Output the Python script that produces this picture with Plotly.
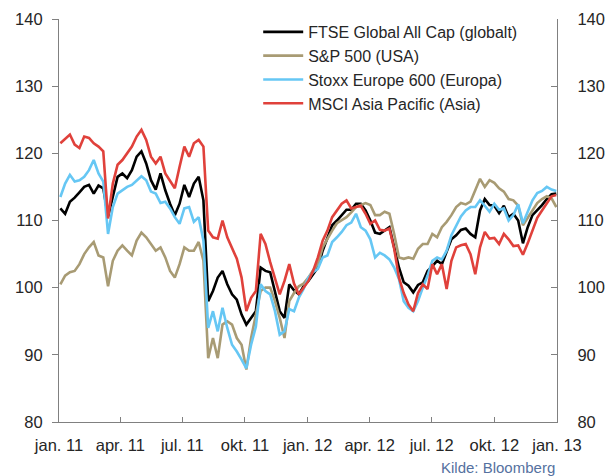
import pandas as pd
import plotly.graph_objects as go

dates = pd.date_range("2011-01-03", periods=105, freq="7D")

ftse_global = [
    111.8, 111.0, 112.8, 113.4, 114.2, 115.0, 115.3, 114.0, 115.2, 114.8,
    110.6, 113.5, 116.5, 117.0, 116.3, 117.5, 119.5, 120.3, 118.5, 116.0,
    114.6, 117.0, 114.5, 112.5, 110.8, 112.5, 115.3, 113.5, 115.5, 116.5,
    113.0, 98.0, 99.5, 101.5, 102.5, 100.5, 99.0, 98.2, 96.0, 94.5,
    95.5, 96.5, 103.0, 102.5, 102.3, 99.5, 96.5, 95.5, 100.5, 99.6,
    99.0, 100.2, 101.0, 102.0, 103.0, 105.5, 107.5, 109.3, 110.0, 110.8,
    111.6, 111.6, 112.5, 112.5, 111.5, 110.0, 108.2, 108.0, 108.5, 109.0,
    106.0, 103.0, 100.8, 100.3, 99.3, 100.4, 100.8, 102.5, 103.2, 104.0,
    103.5, 105.5, 107.2, 107.8, 108.6, 108.8, 108.0, 107.5, 111.5, 113.2,
    112.3, 112.2, 111.1, 112.2, 110.5, 111.0, 110.0, 106.6, 109.0, 110.8,
    111.5, 112.3, 113.2, 113.9, 114.0,
]

sp500 = [
    100.5, 101.8, 102.3, 102.5, 103.5, 105.0, 106.0, 106.8, 104.8, 104.5,
    100.2, 104.0, 105.5, 106.3, 105.5, 104.8, 107.0, 108.2, 107.5, 106.5,
    105.5, 106.0, 104.5, 102.5, 101.5, 103.5, 106.0, 105.5, 105.5, 106.8,
    104.0, 89.5, 92.5, 89.5, 94.5, 95.0, 94.5, 92.5, 91.5, 87.8,
    92.5, 96.0, 99.5, 100.0, 100.0, 98.0, 95.5, 92.5, 98.0, 99.2,
    100.2, 100.6, 101.5, 102.6, 103.5, 106.0, 107.3, 108.5, 109.6, 110.0,
    110.5, 111.2, 112.0, 112.3, 112.6, 112.3, 110.8, 110.8, 111.3, 111.0,
    108.0, 104.5, 104.3, 104.5, 104.3, 105.8, 106.5, 106.5, 108.0, 107.5,
    109.0, 109.8, 110.8, 112.0, 112.6, 112.4, 112.8, 114.5, 116.2, 115.0,
    116.0, 115.6, 114.8, 114.3, 113.2, 113.0, 112.2, 109.3, 110.5, 111.5,
    112.6, 113.2, 113.6, 113.3, 112.0,
]

stoxx600 = [
    113.5, 115.5, 116.8, 115.8, 116.0, 116.5, 117.5, 119.0, 117.0, 115.8,
    108.0, 112.0, 114.0, 114.5, 115.0, 115.3, 116.0, 116.6, 116.0, 114.3,
    114.0, 112.6, 112.8, 111.8, 110.5, 109.5, 111.8, 112.0, 109.8, 110.5,
    107.0, 94.0, 96.5, 93.5, 97.0, 94.0, 91.5, 90.5, 89.3, 88.0,
    91.5, 94.2, 100.5, 99.5, 99.0, 96.5, 93.0, 93.5, 96.8, 96.5,
    98.5, 99.8, 101.5, 102.3, 102.8, 104.5, 104.8, 106.8, 107.5, 108.3,
    109.3, 109.7, 111.0, 109.0, 108.5, 107.2, 104.5, 105.2, 104.8, 104.2,
    103.0, 101.3, 98.0, 97.0, 96.5, 98.0, 100.0, 101.8, 104.0, 104.5,
    104.2, 105.5, 107.8, 109.2, 110.6, 111.5, 112.0, 112.0, 113.0, 112.2,
    111.3, 112.5, 111.6, 111.8, 110.0, 110.8, 112.4, 109.6, 111.3, 113.0,
    114.1, 114.4, 115.0, 114.6, 114.4,
]

msci_apac = [
    121.5, 122.2, 122.8, 121.3, 120.8, 122.5, 122.3, 121.5, 121.0, 120.3,
    110.3, 115.5, 118.3, 119.0, 120.0, 121.0, 122.5, 123.5, 122.0, 119.5,
    118.5, 119.5, 117.0, 115.8, 114.8, 118.0, 121.0, 119.5, 121.5, 122.0,
    121.0, 108.5, 107.5, 107.3, 110.0, 107.5, 105.8, 104.3, 101.5, 96.5,
    98.5, 99.5, 108.0, 106.5, 103.8, 101.5, 99.0, 101.0, 103.5, 100.6,
    99.0, 100.0, 101.0, 102.5, 104.5, 107.0, 108.5, 110.5, 111.5, 112.5,
    113.0, 111.8, 112.0, 112.2, 111.0, 109.5, 110.0, 108.6, 108.5, 108.8,
    105.8, 101.5, 99.2, 97.5, 96.5, 99.2, 100.5, 99.8, 103.5, 102.0,
    103.5, 99.8, 104.0, 106.0, 106.3, 106.5, 105.0, 102.0, 106.0, 108.3,
    107.3, 107.4, 106.5, 108.0, 107.2, 106.2, 106.3, 104.9, 106.6, 108.5,
    110.4, 111.5, 112.6, 113.6, 113.8,
]

series_names = [
    "FTSE Global All Cap (globalt)",
    "S&P 500 (USA)",
    "Stoxx Europe 600 (Europa)",
    "MSCI Asia Pacific (Asia)",
]
series_values = [ftse_global, sp500, stoxx600, msci_apac]
series_colors = ["#000000", "#a89b74", "#66c7f4", "#e0413b"]
# last series is drawn against the (identical) right-hand axis so both axes render
series_axes = ["y", "y", "y", "y2"]

tick_dates = ["2011-01-01", "2011-04-01", "2011-07-01", "2011-10-01", "2012-01-01",
              "2012-04-01", "2012-07-01", "2012-10-01", "2013-01-01"]
tick_labels = ["jan. 11", "apr. 11", "jul. 11", "okt. 11", "jan. 12",
               "apr. 12", "jul. 12", "okt. 12", "jan. 13"]
y_ticks = [80, 90, 100, 110, 120, 130, 140]

fig = go.Figure()
for i, (name, vals, col, ax) in enumerate(zip(series_names, series_values, series_colors, series_axes)):
    fig.add_trace(go.Scatter(
        x=dates, y=vals, name=name, mode="lines",
        line=dict(color=col, width=2.6),
        legendgroup=f"g{i}", yaxis=ax,
    ))

axis_col = "#808080"
font_fam = "Liberation Sans, Arial, sans-serif"
text_col = "#262626"

fig.update_layout(
    width=610, height=476,
    margin=dict(l=59, r=53, t=19, b=54, autoexpand=False),
    paper_bgcolor="white", plot_bgcolor="white",
    font=dict(family=font_fam, size=16.5, color=text_col),
    showlegend=True,
    legend=dict(
        x=0.40, y=1.01, xanchor="left", yanchor="top",
        bgcolor="rgba(0,0,0,0)", font=dict(size=16, color=text_col),
        traceorder="grouped", tracegroupgap=0, itemwidth=40,
    ),
    xaxis=dict(
        type="date", range=["2011-01-01", "2013-01-01"],
        tickvals=tick_dates, ticktext=tick_labels,
        ticks="inside", ticklen=5, tickcolor=axis_col, tickwidth=1,
        showline=True, linecolor=axis_col, linewidth=1.2,
        showgrid=False, zeroline=False, ticklabelstandoff=8, automargin=False,
    ),
    yaxis=dict(
        range=[80, 140], tickvals=y_ticks,
        ticks="outside", ticklen=6, tickcolor=axis_col, tickwidth=1,
        showline=True, linecolor=axis_col, linewidth=1.2,
        showgrid=False, zeroline=False, ticklabelstandoff=6, automargin=False,
    ),
    yaxis2=dict(
        range=[80, 140], tickvals=y_ticks, overlaying="y", side="right",
        ticks="inside", ticklen=6, tickcolor=axis_col, tickwidth=1,
        showline=True, linecolor=axis_col, linewidth=1.2,
        showgrid=False, zeroline=False, ticklabelstandoff=16, automargin=False,
    ),
    annotations=[dict(
        text="Kilde: Bloomberg", xref="paper", yref="paper",
        x=1.0, y=-0.114, xanchor="right", yanchor="middle", showarrow=False,
        font=dict(size=15, color="#5571a0", family=font_fam),
    )],
)

fig.write_html(
    "out.html",
    config={"displayModeBar": False},
    post_script="document.body.style.margin='0';document.body.style.overflow='hidden';",
)
